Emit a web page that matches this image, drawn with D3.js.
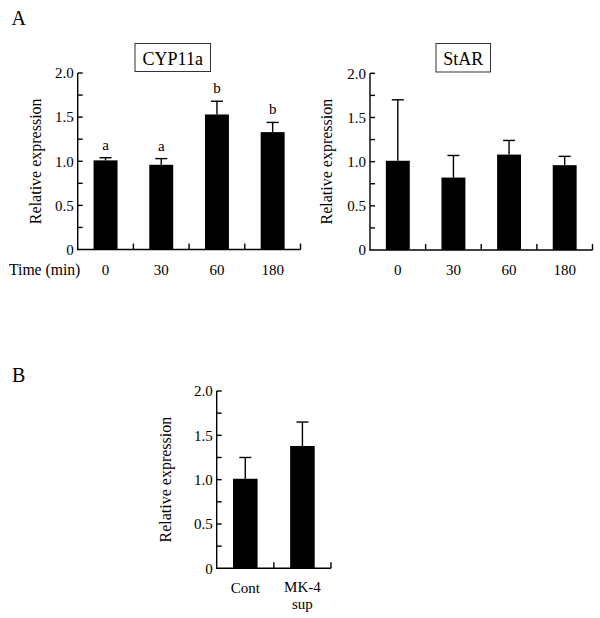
<!DOCTYPE html>
<html><head><meta charset="utf-8">
<script src="https://cdn.jsdelivr.net/npm/d3@7"></script>
<style>
html,body{margin:0;padding:0;background:#fff;}
svg{display:block;font-family:"Liberation Serif","Times New Roman",serif;}
</style></head>
<body><svg id="c" width="600" height="618"></svg>
<script>
// ---- data ----
const times = ["0", "30", "60", "180"];
const cypMean = [1.01, 0.96, 1.53, 1.33];
const cypErr = [0.03, 0.07, 0.15, 0.11];
const cypLetters = ["a", "a", "b", "b"];
const starMean = [1.01, 0.82, 1.08, 0.96];
const starErr = [0.69, 0.25, 0.16, 0.10];
const bGroups = ["Cont", "MK-4|sup"];
const bMean = [1.01, 1.38];
const bErr = [0.24, 0.27];
const yMajor = [0, 0.5, 1.0, 1.5, 2.0];
const yMajorLabels = ["0", "0.5", "1.0", "1.5", "2.0"];
const yMinor = [0.25, 0.75, 1.25, 1.75];

const svg = d3.select("#c");

function panel(opts) {
  const g = svg.append("g");
  const x = d3.scaleBand().domain(opts.cats).range([opts.x0, opts.x1]).padding(0);
  const y = d3.scaleLinear().domain([0, 2]).range([opts.y0, opts.yTop]);
  const bw = x.bandwidth() * 0.43;
  const sw = 1.4;
  // bars
  g.selectAll("rect.bar").data(opts.cats).enter().append("rect")
    .attr("x", (d) => x(d) + x.bandwidth() / 2 - bw / 2)
    .attr("width", bw)
    .attr("y", (d, i) => y(opts.mean[i]))
    .attr("height", (d, i) => y(0) - y(opts.mean[i]))
    .attr("fill", "#000");
  // error bars
  opts.cats.forEach((d, i) => {
    const cx = x(d) + x.bandwidth() / 2;
    const top = y(opts.mean[i] + opts.err[i]);
    g.append("line").attr("x1", cx).attr("x2", cx).attr("y1", y(opts.mean[i])).attr("y2", top)
      .attr("stroke", "#000").attr("stroke-width", sw);
    g.append("line").attr("x1", cx - 6).attr("x2", cx + 6).attr("y1", top).attr("y2", top)
      .attr("stroke", "#000").attr("stroke-width", sw);
    if (opts.letters) {
      g.append("text").attr("x", cx).attr("y", top - 8).attr("text-anchor", "middle")
        .attr("font-size", 15).text(opts.letters[i]);
    }
  });
  // y axis line
  g.append("line").attr("x1", opts.x0).attr("x2", opts.x0).attr("y1", y(0)).attr("y2", y(2))
    .attr("stroke", "#000").attr("stroke-width", sw);
  // y ticks (inward)
  yMajor.concat(yMinor).filter(v => v > 0).forEach(v => {
    g.append("line").attr("x1", opts.x0).attr("x2", opts.x0 + 5).attr("y1", y(v)).attr("y2", y(v))
      .attr("stroke", "#000").attr("stroke-width", sw);
  });
  yMajor.forEach((v, i) => {
    g.append("text").attr("x", opts.x0 - 4).attr("y", y(v)).attr("dy", "0.35em")
      .attr("text-anchor", "end").attr("font-size", 15).text(yMajorLabels[i]);
  });
  // x axis
  g.append("line").attr("x1", opts.x0 - sw / 2).attr("x2", opts.x1).attr("y1", y(0)).attr("y2", y(0))
    .attr("stroke", "#000").attr("stroke-width", sw);
  opts.cats.forEach((d) => {
    const bx = x(d) + x.bandwidth();
    g.append("line").attr("x1", bx).attr("x2", bx).attr("y1", y(0)).attr("y2", y(0) - 6)
      .attr("stroke", "#000").attr("stroke-width", sw);
  });
  // x labels (multi-line labels stacked)
  opts.cats.forEach((d) => {
    const cx = x(d) + x.bandwidth() / 2;
    const parts = d.split("|");
    const base = parts.length > 1 ? y(0) + 23.5 : y(0) + 25;
    parts.forEach((p, j) => {
      g.append("text").attr("x", cx).attr("y", base + j * 17).attr("text-anchor", "middle")
        .attr("font-size", 15).text(p);
    });
  });
  // y title
  g.append("text").attr("transform", `translate(${opts.x0 - opts.titleOff},${(y(0) + y(2)) / 2}) rotate(-90)`)
    .attr("text-anchor", "middle").attr("font-size", 16).text("Relative expression");
  // box title
  if (opts.box) {
    const b = opts.box;
    g.append("rect").attr("x", b.x).attr("y", b.y).attr("width", b.w).attr("height", b.h)
      .attr("fill", "none").attr("stroke", "#333").attr("stroke-width", 1);
    g.append("text").attr("x", b.x + b.w / 2).attr("y", b.y + b.h - 7).attr("text-anchor", "middle")
      .attr("font-size", 18).text(b.text);
  }
  return { x, y };
}

panel({ cats: times, mean: cypMean, err: cypErr, letters: cypLetters,
  x0: 77.7, x1: 300.5, yTop: 73, y0: 249.5, titleOff: 37,
  box: { x: 135, y: 43.5, w: 75.5, h: 28, text: "CYP11a" } });
panel({ cats: times, mean: starMean, err: starErr,
  x0: 370, x1: 592.5, yTop: 73.3, y0: 250, titleOff: 38,
  box: { x: 436, y: 43.5, w: 54.5, h: 28.5, text: "StAR" } });
panel({ cats: bGroups, mean: bMean, err: bErr,
  x0: 216.7, x1: 331, yTop: 391, y0: 568.3, titleOff: 46 });

svg.append("text").attr("x", 11.5).attr("y", 24.5).attr("font-size", 20).text("A");
svg.append("text").attr("x", 12).attr("y", 381.5).attr("font-size", 20).text("B");
svg.append("text").attr("x", 9).attr("y", 274.5).attr("font-size", 15.7).text("Time (min)");
</script>
</body></html>
